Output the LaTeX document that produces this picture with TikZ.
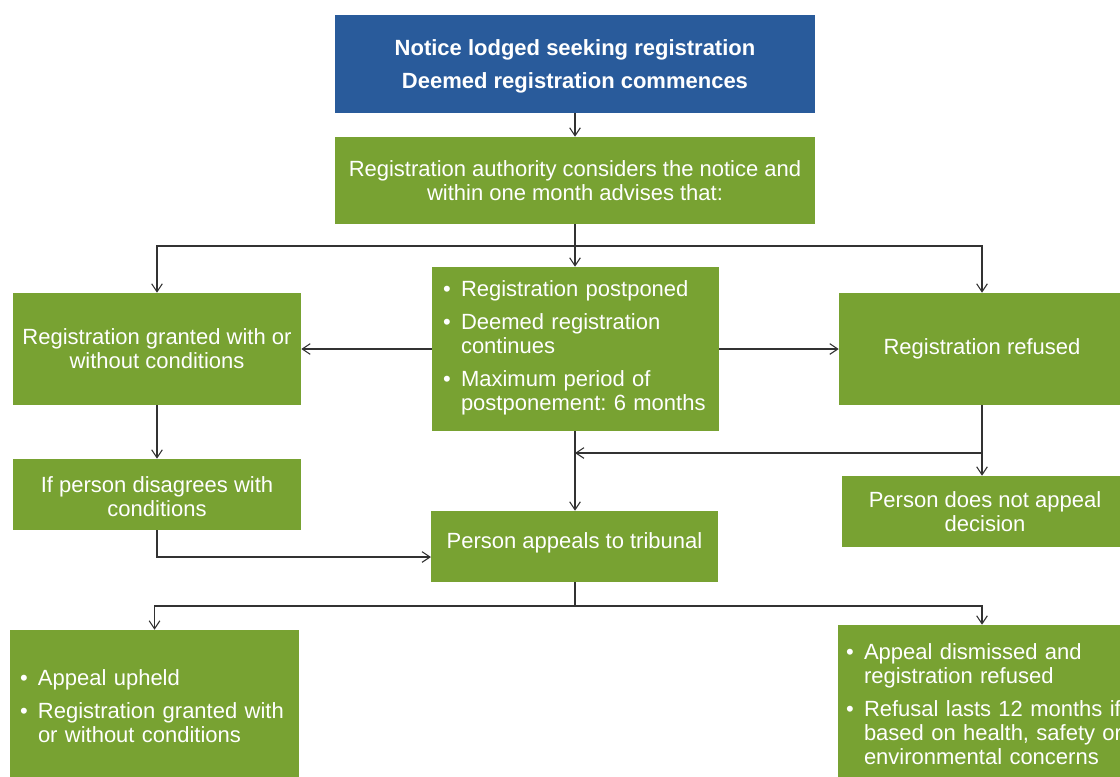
\documentclass[tikz,border=0pt]{standalone}
\usepackage{fontspec}
\setmainfont{Liberation Sans}
\usetikzlibrary{arrows.meta}
\definecolor{boxgreen}{RGB}{120,162,50}
\definecolor{boxblue}{RGB}{41,91,155}
\definecolor{linegray}{RGB}{50,50,50}
\frenchspacing
\newcommand\bl{\makebox[13.5pt][l]{•}}
\newcommand\ind{\hspace*{13.5pt}}
\newcommand\shiftv[2]{\raisebox{#1}[\height][\depth]{#2}}
\newenvironment{blist}{\begin{tabular}{@{}l@{}}}{\end{tabular}}
\tikzset{
  gbox/.style={rectangle, fill=boxgreen, text=white, inner sep=0pt, align=center,
    font=\fontsize{16.5}{18}\selectfont},
  bbox/.style={rectangle, fill=boxblue, text=white, inner sep=0pt, align=center,
    font=\fontsize{16.5}{24.75}\selectfont\bfseries},
  arr/.style={draw=linegray, line width=0.8pt, -{Straight Barb[length=6pt,width=8pt,line width=0.8pt]}},
  ln/.style={draw=linegray, line width=0.8pt},
}
\begin{document}
\begin{tikzpicture}[x=0.75pt,y=-0.75pt]
\useasboundingbox (0,0) rectangle (1120,776);
\fill[white] (0,0) rectangle (1120,776);

\node[bbox, minimum width=360pt, minimum height=73.5pt] (notice) at (575,64)
  {\shiftv{-0.75pt}{\begin{tabular}{@{}c@{}}Notice lodged seeking registration\\Deemed registration commences\end{tabular}}};
\node[gbox, minimum width=360pt, minimum height=65.25pt] (consider) at (575,180.5)
  {Registration authority considers the notice and\\within one month advises that:};
\node[gbox, minimum width=216pt, minimum height=84pt] (granted) at (157,349)
  {Registration granted with or\\without conditions};
\node[gbox, minimum width=215.25pt, minimum height=123pt, text width=198.75pt, align=left, inner xsep=8.25pt] (postponed) at (575.5,349)
  {\begin{blist}\bl Registration postponed\\[6.75pt]\bl Deemed registration\\\ind continues\\[6.75pt]\bl Maximum period of\\\ind postponement: 6 months\end{blist}};
\node[gbox, minimum width=214.5pt, minimum height=84pt] (refused) at (982,349)
  {Registration refused};
\node[gbox, minimum width=216pt, minimum height=53.25pt] (disagree) at (157,494.5)
  {\shiftv{-3.75pt}{\begin{tabular}{@{}c@{}}If person disagrees with\\conditions\end{tabular}}};
\node[gbox, minimum width=214.5pt, minimum height=53.25pt] (noappeal) at (985,511.5)
  {Person does not appeal\\decision};
\node[gbox, minimum width=215.25pt, minimum height=53.25pt] (tribunal) at (574.5,546.5)
  {\shiftv{3pt}{Person appeals to tribunal}};
\node[gbox, minimum width=216.75pt, minimum height=114pt, text width=201.75pt, align=left, inner xsep=7.5pt] (upheld) at (154.5,706)
  {\shiftv{-2.25pt}{\begin{blist}\bl Appeal upheld\\[6.75pt]\bl Registration granted with\\\ind or without conditions\end{blist}}};
\node[gbox, minimum width=216pt, minimum height=117.75pt, text width=204pt, align=left, inner xsep=6pt] (dismissed) at (982,703.5)
  {\shiftv{-2.6pt}{\begin{blist}\bl Appeal dismissed and\\\ind registration refused\\[6.75pt]\bl Refusal lasts 12 months if\\\ind based on health, safety or\\\ind environmental concerns\end{blist}}};

\coordinate (split1) at (575,246);
\coordinate (merge1) at (575,453);
\coordinate (refjoin) at (982,453);
\coordinate (tribin) at (431,557);
\coordinate (split2) at (575,606);

\draw[arr] (notice) -- (consider);
\draw[ln] (consider.south) -- (split1);
\draw[arr] (split1) -| (granted.north);
\draw[arr] (split1) -| (refused.north);
\draw[arr] (split1) -- (split1 |- postponed.north);
\draw[arr] (postponed.west) -- (granted.east);
\draw[arr] (postponed.east) -- (refused.west);
\draw[arr] (granted.south) -- (disagree.north);
\draw[arr] (disagree.south) |- (tribin);
\draw[arr] (split1 |- postponed.south) -- (split1 |- tribunal.north);
\draw[arr] (refused.south) -- (noappeal.north -| refused.south);
\draw[arr] (refjoin) -- (merge1);
\draw[ln] (split1 |- tribunal.south) -- (split2);
\draw[arr] (split2) -| (upheld.north);
\draw[arr] (split2) -| (dismissed.north);
\end{tikzpicture}
\end{document}
